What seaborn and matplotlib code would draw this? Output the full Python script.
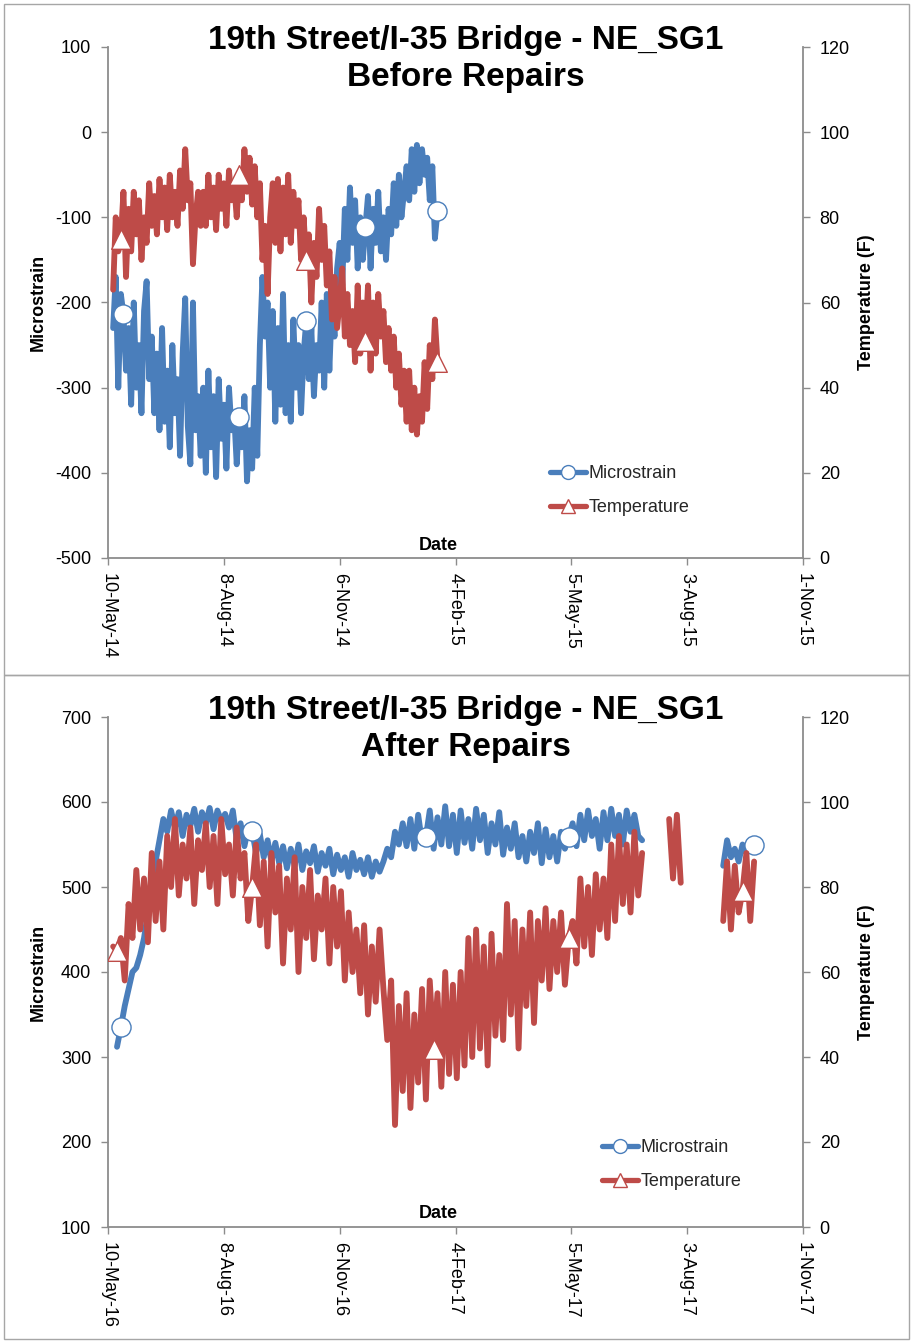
import numpy as np
import pandas as pd
import matplotlib
matplotlib.use("Agg")
import matplotlib.pyplot as plt
import matplotlib.dates as mdates
from matplotlib.lines import Line2D
from matplotlib.patches import Rectangle
import seaborn as sns

nan = np.nan

# ---------------- Data: Before Repairs (2-day samples from 14-May-14) ----------------
before_start = "2014-05-14"
before_step_days = 2
before_strain = [
    -230, -170, -300, -190, -214, -280,
    -230, -320, -200, -300, -250, -330, -210, -175, -290,
    -240, -330, -260, -350, -230, -340, -280, -370, -250, -330,
    -290, -380, -260, -195, -345, -390, -200, -350, -310, -380,
    -300, -400, -280, -370, -310, -405, -290, -360, -320, -395, -300, -350, -330, -390,
    -335, -370, -310, -410, -350, -395, -300, -380,
    -250, -170, -240, -200,
    -300, -210, -340, -230, -320, -190, -330, -250, -340, -220, -300, -250, -330,
    -260, -222, -290, -230, -310, -250, -280, -200, -300,
    -190, -280, -200, -240, -160, -130,
    -180, -90, -150, -65, -130, -80, -160, -100,
    -150, -111, -75, -160, -90, -130, -70, -140, -100, -150,
    -90, -120, -60, -110, -50, -100, -70, -40,
    -80, -20, -70, -15, -60, -20, -50, -30,
    -80, -40, -125, -93,
]
before_temp = [
    63, 80, 72, 75, 86, 66,
    82, 72, 86, 76, 84, 70, 80, 74, 88,
    78, 85, 76, 89, 80, 87, 77, 90, 80, 86, 78, 91, 82, 96, 84, 88, 69, 80, 86, 78,
    86, 78, 90, 80, 87, 77, 90, 82, 88, 78, 91, 84, 88, 80,
    90, 84, 96, 86, 94, 83, 92, 80,
    88, 70, 78, 62,
    80, 88, 74, 89, 72, 87, 76, 90, 74, 86, 78, 84, 70,
    80, 70, 76, 60, 74, 66, 82, 70, 78, 64,
    72, 56, 66, 54, 60,
    68, 52, 62, 50, 58, 46, 64, 48,
    60, 51, 64, 44, 60, 48, 62, 52, 58, 46,
    54, 44, 52, 40, 48, 36, 44, 32,
    44, 30, 40, 29, 38, 32, 46, 35,
    50, 42, 56, 46,
]
before_strain_marker_idx = [4, 49, 75, 98, 126]
before_temp_marker_idx = [3, 49, 75, 98, 126]

# ---------------- Data: After Repairs (3-day samples from 14-May-16) ----------------
after_start = "2016-05-14"
after_step_days = 3
after_strain = (
    [nan]
    + [312, 335, 360, 380, 400, 405, 420, 440, 470, 500, 530, 555, 580]
    + [565, 590, 570, 588, 560, 585, 572, 592, 565, 588, 575, 593, 568, 590, 578, 586, 570, 590]
    + [555, 575, 548, 570, 566]
    + [540, 562, 535, 555, 530, 552, 528, 548, 522, 545, 525, 550, 520, 542, 528, 548, 518,
       540, 525, 545, 515, 538, 520, 535, 512, 540, 520, 532, 515, 535, 512, 530, 518]
    + [530, 545, 535, 565, 550, 575]
    + [548, 580, 545, 585, 552, 559, 590, 545, 582, 550, 595, 548, 585, 540, 590, 552, 580,
       545, 592, 555, 585, 540, 575, 550, 588, 538, 570, 545, 575, 535]
    + [560, 530, 565, 540, 575, 528, 568, 535, 560, 530, 565, 545, 559]
    + [575, 548, 585, 555, 590, 560, 580, 545, 588, 555, 592, 560, 585, 550, 590, 565, 585, 560, 555]
    + [nan] * 20
    + [525, 555, 535, 545, 530, 550, 540, 548, 550]
)
after_temp = (
    [66, 65, 68, 58, 76, 68, 84, 70, 82, 67, 88, 72, 86, 70]
    + [92, 80, 96, 78, 90, 82, 94, 76, 91, 84, 95, 80, 92, 76, 96, 83, 90, 78, 94, 82, 88, 72, 80]
    + [90, 71, 86, 66, 88, 74, 85, 62, 82, 70, 87, 60, 80, 68, 84, 63, 78, 70, 82, 62,
       80, 66, 79, 58, 74, 60, 70, 55, 71, 50, 66, 53, 70]
    + [56, 44, 58, 24, 52, 32, 55, 28, 50, 34, 56, 30]
    + [58, 42, 55, 33, 60, 36, 57, 35, 60, 38]
    + [68, 40, 70, 42, 66, 38, 69, 45, 64]
    + [44, 76, 50, 72, 42, 70, 52, 74, 48]
    + [72, 58, 75, 56, 72, 60, 74, 57, 68, 72]
    + [62, 82, 66, 80, 64, 83, 70, 82, 68]
    + [90, 72, 92, 76, 90, 74, 93, 78, 88]
    + [nan] * 6
    + [96, 82, 97, 81]
    + [nan] * 10
    + [72, 86, 70, 85, 74, 79, 88, 72, 86]
)
after_strain_marker_idx = [2, 36, 81, 118, 166]
after_temp_marker_idx = [1, 36, 83, 118, 163]

title_line1 = "19th Street/I-35 Bridge - NE_SG1"
before_title = "Before Repairs"
after_title = "After Repairs"
series_names = ["Microstrain", "Temperature"]

# ---------------- Styling ----------------
BLUE = "#4A7EBB"
RED = "#BE4B48"
GREY = "#8C8C8C"
FS = 13

sns.set_theme(style="white")
plt.rcParams["font.family"] = ["Liberation Sans", "DejaVu Sans"]
plt.rcParams["axes.unicode_minus"] = False

W, H = 912, 1342
fig = plt.figure(figsize=(W / 100, H / 100), dpi=100)


def fx(px):
    return px / W


def fy(py):
    return 1 - py / H


def draw_panel(top_px, bot_px, start, step, strain, temp, s_idx, t_idx,
               xstart, xend, ylim, yticks, subtitle, title_center_px, legend_xy):
    left_px, right_px = 108, 803
    ax = fig.add_axes([fx(left_px), fy(bot_px), fx(right_px - left_px), (bot_px - top_px) / H])
    ax2 = ax.twinx()
    dates = pd.date_range(start, periods=len(strain), freq=f"{step}D")
    df = pd.DataFrame({"date": dates, "strain": strain, "temp": temp})

    for col, a, color, mk, idx, ms in [("strain", ax, BLUE, "o", s_idx, 190),
                                       ("temp", ax2, RED, "^", t_idx, 200)]:
        d = df.assign(seg=df[col].isna().cumsum()).dropna(subset=[col])
        sns.lineplot(data=d, x="date", y=col, units="seg", estimator=None, sort=False,
                     color=color, lw=4.2, ax=a, legend=False,
                     solid_joinstyle="round", solid_capstyle="round")
        m = df.iloc[idx]
        sns.scatterplot(data=m, x="date", y=col, marker=mk, s=ms, facecolor="white",
                        edgecolor=color, linewidth=1.0, ax=a, zorder=5, legend=False)

    ax.set_xlim(pd.Timestamp(xstart), pd.Timestamp(xend))
    ax.set_xticks(pd.date_range(xstart, xend, freq="90D"))
    ax.xaxis.set_major_formatter(mdates.DateFormatter("%-d-%b-%y"))
    ax.set_ylim(*ylim)
    ax.set_yticks(yticks)
    ax2.set_ylim(0, 120)
    ax2.set_yticks([0, 20, 40, 60, 80, 100, 120])

    ax.spines["top"].set_visible(False)
    ax2.spines["top"].set_visible(False)
    ax.spines["right"].set_visible(False)
    ax2.spines["left"].set_visible(False)
    ax2.spines["bottom"].set_visible(False)
    for sp in [ax.spines["left"], ax.spines["bottom"], ax2.spines["right"]]:
        sp.set_color(GREY)
        sp.set_linewidth(1.3)

    ax.tick_params(axis="y", left=True, direction="out", length=5, width=1, color=GREY,
                   labelsize=FS, pad=7, labelcolor="black")
    ax.tick_params(axis="x", bottom=True, direction="out", length=5, width=1, color=GREY,
                   labelsize=FS, pad=6, labelcolor="black", labelrotation=270)
    ax2.tick_params(axis="y", right=True, direction="out", length=5, width=1, color=GREY,
                    labelsize=FS, pad=7, labelcolor="black")
    for lab in ax.get_xticklabels():
        lab.set_va("top")
        lab.set_ha("center")

    ax.set_xlabel("")
    ax.set_ylabel("Microstrain", fontsize=FS, fontweight="bold", va="center", color="black")
    ax.yaxis.set_label_coords(-70 / 695, 0.5)
    ax2.set_ylabel("Temperature (F)", fontsize=FS, fontweight="bold", va="center",
                   rotation=90, color="black")
    ax2.yaxis.set_label_coords(1 + 64 / 695, 0.5)
    ax.text(0.475, 13 / (bot_px - top_px), "Date", transform=ax.transAxes, ha="center",
            va="center", fontsize=FS, fontweight="bold", color="black")

    fig.text(fx(466), fy(title_center_px), f"{title_line1}\n{subtitle}", ha="center",
             va="center", fontsize=24, fontweight="bold", linespacing=1.28, color="black")

    handles = [
        Line2D([], [], color=BLUE, lw=3.8, marker="o", markersize=10,
               markerfacecolor="white", markeredgecolor=BLUE),
        Line2D([], [], color=RED, lw=3.8, marker="^", markersize=10,
               markerfacecolor="white", markeredgecolor=RED),
    ]
    lx, ly = legend_xy
    ax2.legend(handles, series_names, loc="upper left",
               bbox_to_anchor=((lx - left_px) / 695, (bot_px - ly) / (bot_px - top_px)),
               frameon=False, fontsize=FS, handlelength=2.0, handletextpad=0.15,
               labelspacing=0.95, borderpad=0, borderaxespad=0)
    return ax, ax2


draw_panel(47, 558, before_start, before_step_days, before_strain, before_temp,
           before_strain_marker_idx, before_temp_marker_idx,
           "2014-05-10", "2015-11-01", (-500, 100), list(range(-500, 101, 100)),
           before_title, 59, (550, 465))
draw_panel(717, 1227, after_start, after_step_days, after_strain, after_temp,
           after_strain_marker_idx, after_temp_marker_idx,
           "2016-05-10", "2017-11-01", (100, 700), list(range(100, 701, 100)),
           after_title, 729, (602, 1139))

# panel frames
for y0, y1 in [(4, 675), (675, 1339)]:
    fig.add_artist(Rectangle((fx(4), fy(y1)), fx(905), (y1 - y0) / H, fill=False,
                             edgecolor="#A6A6A6", lw=1.0, transform=fig.transFigure))

fig.savefig("out.png", dpi=100)
